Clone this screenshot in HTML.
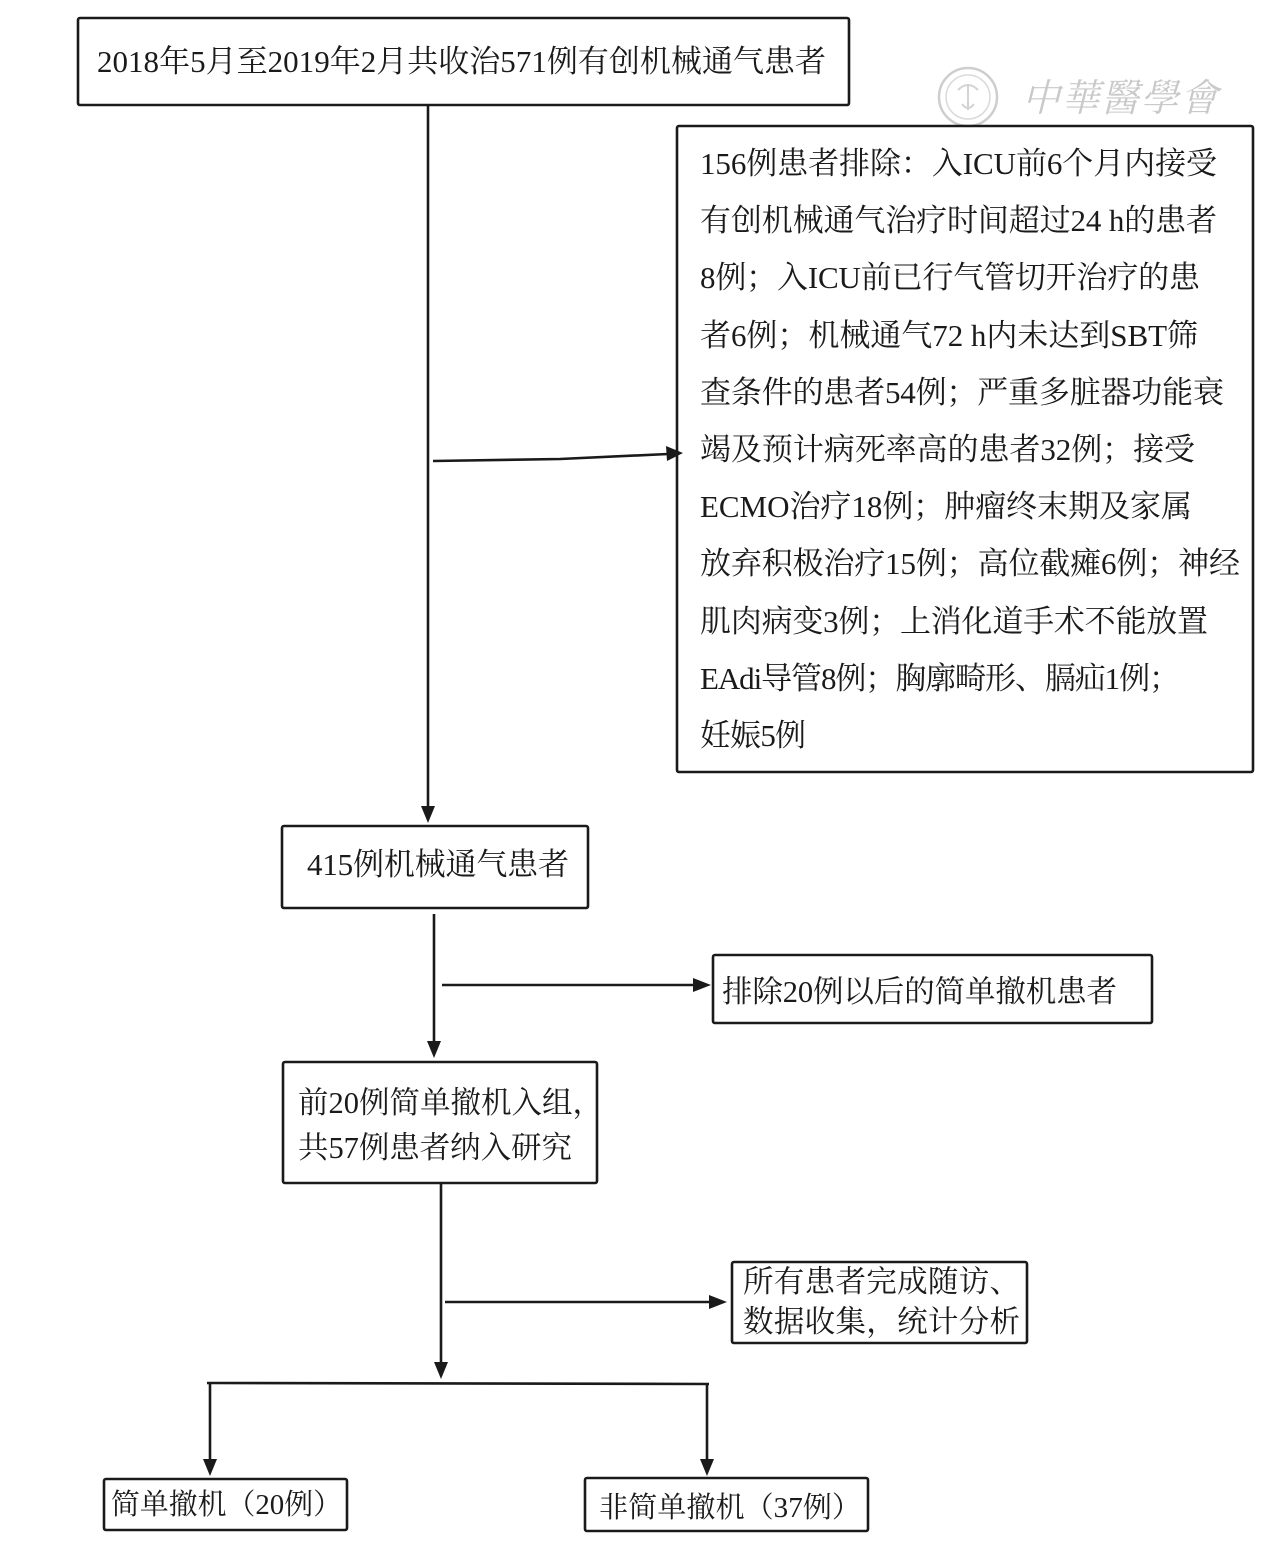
<!DOCTYPE html>
<html>
<head>
<meta charset="utf-8">
<style>
  html, body { margin: 0; padding: 0; background: #ffffff; }
  body { width: 1282px; height: 1550px; overflow: hidden; }
  svg { display: block; }
  .t { font-family: "Liberation Serif", "Noto Serif CJK SC", serif; fill: #1a1a1a; }
</style>
</head>
<body>
<svg width="1282" height="1550" viewBox="0 0 1282 1550" xmlns="http://www.w3.org/2000/svg">
  <rect x="0" y="0" width="1282" height="1550" fill="#ffffff"/>

  <!-- watermark -->
  <g opacity="0.9">
    <circle cx="968" cy="97" r="29" fill="none" stroke="#c9c9c9" stroke-width="2.5"/>
    <circle cx="968" cy="97" r="22" fill="none" stroke="#d6d6d6" stroke-width="1.5"/>
    <path d="M958 90 q10 -10 20 0 M962 104 q6 8 12 0 M968 84 v26" fill="none" stroke="#cfcfcf" stroke-width="2"/>
    <text x="1022" y="111" font-size="38" textLength="196" lengthAdjust="spacing" font-style="italic" fill="#c4c4c4" font-family="'Noto Serif CJK TC', 'Noto Serif CJK SC', serif">中華醫學會</text>
  </g>

  <g fill="none" stroke="#1a1a1a" stroke-width="2.6">
    <!-- boxes -->
    <rect x="78" y="18" width="771" height="87" rx="2"/>
    <rect x="677" y="126" width="576" height="646" rx="2"/>
    <rect x="282" y="826" width="306" height="82" rx="2"/>
    <rect x="713" y="955" width="439" height="68" rx="2"/>
    <rect x="283" y="1062" width="314" height="121" rx="2"/>
    <rect x="732" y="1262" width="295" height="81" rx="2"/>
    <rect x="104" y="1479" width="243" height="51" rx="2"/>
    <rect x="585" y="1478" width="283" height="53" rx="2"/>

    <!-- connectors -->
    <line x1="428" y1="105" x2="428" y2="810"/>
    <polyline points="433,461 560,459 668,454"/>
    <line x1="434" y1="914" x2="434" y2="1044"/>
    <line x1="442" y1="985" x2="696" y2="985"/>
    <line x1="441" y1="1183" x2="441" y2="1365"/>
    <line x1="445" y1="1302" x2="712" y2="1302"/>
    <line x1="207" y1="1383" x2="709" y2="1384"/>
    <line x1="210" y1="1383" x2="210" y2="1462"/>
    <line x1="707" y1="1384" x2="707" y2="1462"/>
  </g>

  <!-- arrowheads -->
  <g fill="#1a1a1a">
    <polygon points="421,806 435,806 428,823"/>
    <polygon points="666,446 667,461 683,453"/>
    <polygon points="427,1041 441,1041 434,1058"/>
    <polygon points="693,978 693,992 711,985"/>
    <polygon points="434,1362 448,1362 441,1379"/>
    <polygon points="709,1295 709,1309 727,1302"/>
    <polygon points="203,1459 217,1459 210,1476"/>
    <polygon points="700,1459 714,1459 707,1476"/>
  </g>

  <!-- texts -->
  <text class="t" x="97" y="72" font-size="31" textLength="729" lengthAdjust="spacing">2018年5月至2019年2月共收治571例有创机械通气患者</text>

  <g class="t" font-size="31">
    <text x="700" y="174" textLength="517" lengthAdjust="spacing">156例患者排除：入ICU前6个月内接受</text>
    <text x="700" y="231" textLength="517" lengthAdjust="spacing">有创机械通气治疗时间超过24 h的患者</text>
    <text x="700" y="288" textLength="500" lengthAdjust="spacing">8例；入ICU前已行气管切开治疗的患</text>
    <text x="700" y="346" textLength="498" lengthAdjust="spacing">者6例；机械通气72 h内未达到SBT筛</text>
    <text x="700" y="403" textLength="524" lengthAdjust="spacing">查条件的患者54例；严重多脏器功能衰</text>
    <text x="700" y="460" textLength="495" lengthAdjust="spacing">竭及预计病死率高的患者32例；接受</text>
    <text x="700" y="517" textLength="492" lengthAdjust="spacing">ECMO治疗18例；肿瘤终末期及家属</text>
    <text x="700" y="574" textLength="540" lengthAdjust="spacing">放弃积极治疗15例；高位截瘫6例；神经</text>
    <text x="700" y="632" textLength="508" lengthAdjust="spacing">肌肉病变3例；上消化道手术不能放置</text>
    <text x="700" y="689" textLength="480" lengthAdjust="spacing">EAdi导管8例；胸廓畸形、膈疝1例；</text>
    <text x="700" y="746" textLength="106" lengthAdjust="spacing">妊娠5例</text>
  </g>

  <text class="t" x="307" y="875" font-size="31" textLength="262" lengthAdjust="spacing">415例机械通气患者</text>

  <text class="t" x="722" y="1002" font-size="30.5" textLength="395" lengthAdjust="spacing">排除20例以后的简单撤机患者</text>

  <g class="t" font-size="30.5">
    <text x="298" y="1113">前20例简单撤机入组，</text>
    <text x="298" y="1158" textLength="274" lengthAdjust="spacing">共57例患者纳入研究</text>
  </g>

  <g class="t" font-size="30.5">
    <text x="743" y="1292" textLength="277" lengthAdjust="spacing">所有患者完成随访、</text>
    <text x="743" y="1332" textLength="277" lengthAdjust="spacing">数据收集，统计分析</text>
  </g>

  <text class="t" x="111" y="1514" font-size="29" textLength="231" lengthAdjust="spacingAndGlyphs">简单撤机（20例）</text>
  <text class="t" x="599" y="1517" font-size="29" textLength="262" lengthAdjust="spacingAndGlyphs">非简单撤机（37例）</text>
</svg>
</body>
</html>
